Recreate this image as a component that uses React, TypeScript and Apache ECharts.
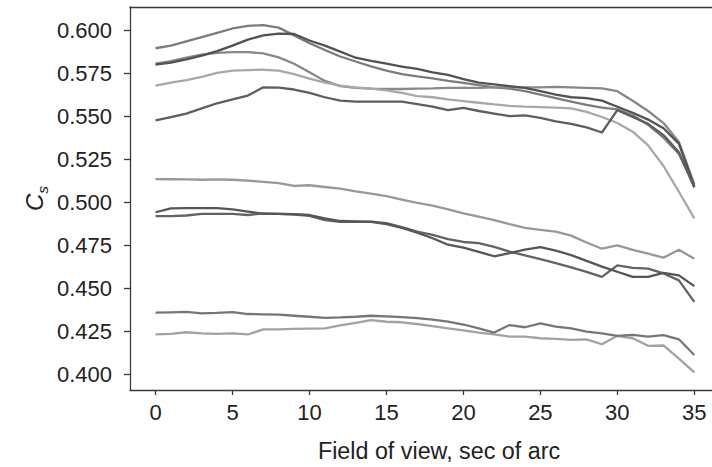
import React, { useEffect, useRef } from "react";
import * as echarts from "echarts";

const xValues = [0, 1, 2, 3, 4, 5, 6, 7, 8, 9, 10, 11, 12, 13, 14, 15, 16, 17, 18, 19, 20, 21, 22, 23, 24, 25, 26, 27, 28, 29, 30, 31, 32, 33, 34, 35];

const xTicks = [0, 5, 10, 15, 20, 25, 30, 35];
const yTicks = [0.4, 0.425, 0.45, 0.475, 0.5, 0.525, 0.55, 0.575, 0.6];

const lineA = [0.5895, 0.591, 0.5935, 0.596, 0.5985, 0.601, 0.6025, 0.603, 0.6015, 0.597, 0.5925, 0.5885, 0.5847, 0.5818, 0.579, 0.5765, 0.5745, 0.5732, 0.572, 0.5705, 0.5693, 0.568, 0.5668, 0.566, 0.5645, 0.5625, 0.5605, 0.5585, 0.5565, 0.555, 0.554, 0.5505, 0.545, 0.5375, 0.528, 0.5095];
const lineB = [0.58, 0.5812, 0.583, 0.5852, 0.5878, 0.591, 0.5945, 0.597, 0.598, 0.5978, 0.594, 0.591, 0.5875, 0.584, 0.5822, 0.5805, 0.5788, 0.5775, 0.5755, 0.574, 0.5715, 0.5695, 0.5685, 0.5675, 0.5665, 0.5645, 0.5625, 0.561, 0.5605, 0.559, 0.5555, 0.552, 0.548, 0.543, 0.534, 0.509];
const lineC = [0.5805, 0.582, 0.584, 0.5858, 0.5868, 0.5873, 0.5873, 0.5865, 0.5842, 0.5805, 0.5755, 0.5705, 0.5675, 0.5665, 0.566, 0.5658, 0.5658, 0.566, 0.5662, 0.5665, 0.5665, 0.5665, 0.5667, 0.5668, 0.5668, 0.5668, 0.567, 0.5668, 0.5665, 0.5662, 0.5645, 0.559, 0.553, 0.546, 0.535, 0.5105];
const lineD = [0.5678, 0.5695, 0.571, 0.5728, 0.5752, 0.5765, 0.5768, 0.577, 0.5765, 0.5745, 0.5718, 0.5695, 0.5678, 0.5668, 0.566, 0.565, 0.5635, 0.5616, 0.561, 0.5598, 0.5587, 0.5578, 0.5568, 0.556, 0.5555, 0.5553, 0.555, 0.5545, 0.5525, 0.5495, 0.546, 0.541, 0.533, 0.521, 0.506, 0.4905];
const lineE = [0.5475, 0.5495, 0.5515, 0.5545, 0.5575, 0.5597, 0.562, 0.5668, 0.5666, 0.5655, 0.5635, 0.561, 0.559, 0.5585, 0.5585, 0.5585, 0.5585, 0.557, 0.5555, 0.5535, 0.5548, 0.553, 0.5515, 0.55, 0.5505, 0.549, 0.547, 0.5455, 0.5435, 0.5405, 0.5535, 0.5495, 0.5455, 0.539, 0.529, 0.5085];
const lineF = [0.5134, 0.5133, 0.5132, 0.513, 0.5132, 0.513, 0.5125, 0.5118, 0.511, 0.5095, 0.5098, 0.5088, 0.5078, 0.5063, 0.505, 0.5035, 0.5015, 0.4995, 0.498, 0.4958, 0.4935, 0.4915, 0.4895, 0.4872, 0.485, 0.4838, 0.4828, 0.4805, 0.4765, 0.4729, 0.4748, 0.4722, 0.47, 0.4677, 0.4723, 0.4671];
const lineG = [0.4941, 0.4963, 0.4965, 0.4965, 0.4965, 0.4958, 0.4945, 0.4932, 0.4932, 0.493, 0.4925, 0.4905, 0.489, 0.4888, 0.4885, 0.4872, 0.485, 0.4822, 0.479, 0.4752, 0.4735, 0.471, 0.4685, 0.4703, 0.4723, 0.4738, 0.4718, 0.4692, 0.4658, 0.4625, 0.4595, 0.4565, 0.4565, 0.4588, 0.4574, 0.4511];
const lineH = [0.4918, 0.4918, 0.4922, 0.4931, 0.4931, 0.4931, 0.4925, 0.4935, 0.4932, 0.4928, 0.492, 0.4895, 0.4885, 0.4885, 0.4887, 0.4878, 0.4855, 0.4828, 0.481, 0.4785, 0.4768, 0.4762, 0.474, 0.4712, 0.469, 0.4668, 0.4645, 0.462, 0.4594, 0.4565, 0.4632, 0.4617, 0.4613, 0.4585, 0.4545, 0.442];
const lineI = [0.4357, 0.4359, 0.4361, 0.4353, 0.4356, 0.436, 0.4349, 0.4347, 0.4345, 0.4339, 0.4333, 0.4327, 0.4329, 0.4333, 0.4339, 0.4335, 0.4331, 0.4325, 0.4316, 0.4305, 0.4288, 0.4265, 0.4241, 0.4285, 0.4272, 0.4295, 0.4276, 0.4266, 0.4247, 0.4237, 0.4222, 0.4228, 0.4218, 0.4226, 0.4202, 0.4111];
const lineJ = [0.4231, 0.4233, 0.4243, 0.4236, 0.4234, 0.4236, 0.423, 0.426, 0.426, 0.4262, 0.4264, 0.4266, 0.4283, 0.4298, 0.4313, 0.4304, 0.4301, 0.4291, 0.4279, 0.4266, 0.4254, 0.4241, 0.423, 0.4218, 0.4218, 0.4208, 0.4204, 0.4199, 0.4202, 0.4173, 0.4222, 0.4208, 0.4164, 0.4166, 0.409, 0.401];

const seriesList = [
  { name: "A", values: lineA, color: "#7c7c7c" },
  { name: "C", values: lineC, color: "#888888" },
  { name: "D", values: lineD, color: "#a8a8a8" },
  { name: "B", values: lineB, color: "#525252" },
  { name: "E", values: lineE, color: "#5e5e5e" },
  { name: "F", values: lineF, color: "#989898" },
  { name: "H", values: lineH, color: "#636363" },
  { name: "G", values: lineG, color: "#565656" },
  { name: "J", values: lineJ, color: "#a2a2a2" },
  { name: "I", values: lineI, color: "#767676" },
];

const FONT = "'Liberation Sans', Arial, Helvetica, sans-serif";

export default function App() {
  const ref = useRef<HTMLDivElement>(null);
  useEffect(() => {
    if (!ref.current) return;
    const chart = echarts.init(ref.current, null, { renderer: "svg" });
    const xMin = -1.66;
    const xMax = 36.15;
    chart.setOption({
      animation: false,
      backgroundColor: "#ffffff",
      grid: { left: 130, right: 0, top: 7, bottom: 75, containLabel: false },
      xAxis: [
        {
          type: "value",
          min: xMin,
          max: xMax,
          position: "bottom",
          name: "Field of view, sec of arc",
          nameLocation: "middle",
          nameGap: 49,
          nameTextStyle: { fontFamily: FONT, fontSize: 23.3, color: "#222", padding: [0, 0, 0, 36] },
          axisLine: { show: true, onZero: false, lineStyle: { color: "#3a3a3a", width: 1.3 } },
          axisTick: { show: true, length: 5, customValues: xTicks, lineStyle: { color: "#3a3a3a", width: 1.3 } },
          axisLabel: {
            customValues: xTicks,
            margin: 11,
            fontFamily: FONT,
            fontSize: 22,
            color: "#222",
          },
          splitLine: { show: false },
        },
        {
          type: "value",
          min: xMin,
          max: xMax,
          position: "top",
          axisLine: { show: true, onZero: false, lineStyle: { color: "#3a3a3a", width: 1.3 } },
          axisTick: { show: false },
          axisLabel: { show: false },
          splitLine: { show: false },
        },
      ],
      yAxis: {
        type: "value",
        min: 0.3907,
        max: 0.6135,
        name: "{a|C}{b|s}",
        nameLocation: "middle",
        nameRotate: 90,
        nameGap: 80,
        nameMoveOverlap: false,
        nameTextStyle: {
          rich: {
            a: { fontFamily: FONT, fontSize: 24, fontStyle: "italic", color: "#222", lineHeight: 32, verticalAlign: "middle" },
            b: { fontFamily: FONT, fontSize: 15, fontStyle: "italic", color: "#222", lineHeight: 32, verticalAlign: "bottom" },
          },
        },
        axisLine: { show: true, onZero: false, lineStyle: { color: "#3a3a3a", width: 1.3 } },
        axisTick: { show: true, length: 6, customValues: yTicks, lineStyle: { color: "#3a3a3a", width: 1.3 } },
        axisLabel: {
          customValues: yTicks,
          margin: 18,
          fontFamily: FONT,
          fontSize: 22,
          color: "#222",
          formatter: (v: number) => v.toFixed(3),
        },
        splitLine: { show: false },
      },
      series: seriesList.map((s) => ({
        type: "line",
        name: s.name,
        xAxisIndex: 0,
        data: xValues.map((x, i) => [x, s.values[i]]),
        showSymbol: false,
        symbol: "none",
        lineStyle: { color: s.color, width: 2.3 },
        itemStyle: { color: s.color },
      })),
    });
    return () => chart.dispose();
  }, []);
  return (
    <div
      ref={ref}
      style={{ position: "fixed", left: 0, top: 0, width: 712, height: 467, background: "#fff" }}
    />
  );
}
